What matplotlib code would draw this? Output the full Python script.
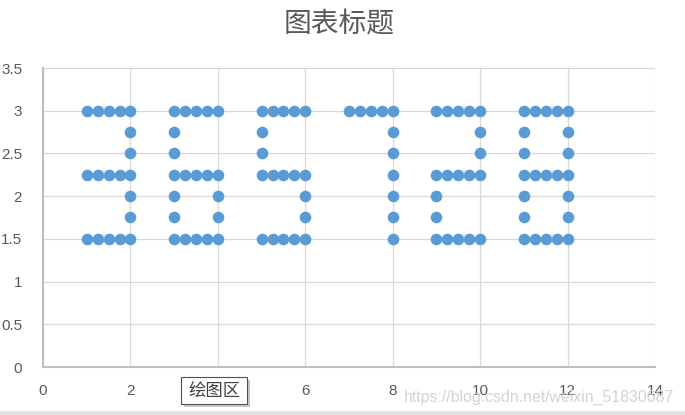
import matplotlib
matplotlib.use("Agg")
import matplotlib.pyplot as plt
from matplotlib.patches import Rectangle

plt.rcParams['font.family'] = ['Noto Sans CJK SC', 'DejaVu Sans']

title = "图表标题"
tooltip = "绘图区"
watermark = "https://blog.csdn.net/weixin_51830687"

# digit "3"
x3 = [1, 1.25, 1.5, 1.75, 2, 2, 2, 1, 1.25, 1.5, 1.75, 2, 2, 2, 1, 1.25, 1.5, 1.75, 2]
y3 = [3, 3, 3, 3, 3, 2.75, 2.5, 2.25, 2.25, 2.25, 2.25, 2.25, 2, 1.75, 1.5, 1.5, 1.5, 1.5, 1.5]
# digit "6"
x6 = [3, 3.25, 3.5, 3.75, 4, 3, 3, 3, 3.25, 3.5, 3.75, 4, 3, 4, 3, 4, 3, 3.25, 3.5, 3.75, 4]
y6 = [3, 3, 3, 3, 3, 2.75, 2.5, 2.25, 2.25, 2.25, 2.25, 2.25, 2, 2, 1.75, 1.75, 1.5, 1.5, 1.5, 1.5, 1.5]
# digit "5"
x5 = [5, 5.25, 5.5, 5.75, 6, 5, 5, 5, 5.25, 5.5, 5.75, 6, 6, 6, 5, 5.25, 5.5, 5.75, 6]
y5 = [3, 3, 3, 3, 3, 2.75, 2.5, 2.25, 2.25, 2.25, 2.25, 2.25, 2, 1.75, 1.5, 1.5, 1.5, 1.5, 1.5]
# digit "7"
x7 = [7, 7.25, 7.5, 7.75, 8, 8, 8, 8, 8, 8, 8]
y7 = [3, 3, 3, 3, 3, 2.75, 2.5, 2.25, 2, 1.75, 1.5]
# digit "2"
x2 = [9, 9.25, 9.5, 9.75, 10, 10, 10, 9, 9.25, 9.5, 9.75, 10, 9, 9, 9, 9.25, 9.5, 9.75, 10]
y2 = [3, 3, 3, 3, 3, 2.75, 2.5, 2.25, 2.25, 2.25, 2.25, 2.25, 2, 1.75, 1.5, 1.5, 1.5, 1.5, 1.5]
# digit "8"
x8 = [11, 11.25, 11.5, 11.75, 12, 11, 12, 11, 12, 11, 11.25, 11.5, 11.75, 12, 11, 12, 11, 12,
      11, 11.25, 11.5, 11.75, 12]
y8 = [3, 3, 3, 3, 3, 2.75, 2.75, 2.5, 2.5, 2.25, 2.25, 2.25, 2.25, 2.25, 2, 2, 1.75, 1.75,
      1.5, 1.5, 1.5, 1.5, 1.5]

xs = x3 + x6 + x5 + x7 + x2 + x8
ys = y3 + y6 + y5 + y7 + y2 + y8

xticks = [0, 2, 4, 6, 8, 10, 12, 14]
yticks = [0, 0.5, 1, 1.5, 2, 2.5, 3, 3.5]
ytick_labels = ["0", "0.5", "1", "1.5", "2", "2.5", "3", "3.5"]

W, H = 685, 415
fig = plt.figure(figsize=(W / 100, H / 100), dpi=100)
ax = fig.add_axes([43 / W, (H - 367) / H, (655 - 43) / W, (367 - 68) / H])

ax.scatter(xs, ys, s=70, color='#5B9BD5', zorder=3, linewidths=0)

ax.set_xlim(0, 14)
ax.set_ylim(0, 3.5)
ax.set_xticks(xticks)
ax.set_yticks(yticks)
ax.set_xticklabels([str(v) for v in xticks])
ax.set_yticklabels(ytick_labels)
ax.grid(True, color='#D9D9D9', linewidth=0.9, zorder=0)
ax.set_axisbelow(True)
for s in ['top', 'right']:
    ax.spines[s].set_visible(False)
for s in ['left', 'bottom']:
    ax.spines[s].set_color('#BFBFBF')
    ax.spines[s].set_linewidth(1.5)
ax.tick_params(length=0, labelsize=11, labelcolor='#595959', pad=12)
ax.tick_params(axis='y', pad=15)
for lab in ax.get_xticklabels() + ax.get_yticklabels():
    lab.set_family(['Liberation Sans', 'DejaVu Sans'])

fig.text(339 / W, 1 - 24 / H, title, ha='center', va='center', fontsize=20, color='#595959')

# tooltip box with shadow
fig.patches.append(Rectangle((184 / W, 1 - 407 / H), 66 / W, 27 / H, transform=fig.transFigure,
                             facecolor='#C8C8C8', edgecolor='none', zorder=5))
fig.patches.append(Rectangle((181 / W, 1 - 404 / H), 66 / W, 27 / H, transform=fig.transFigure,
                             facecolor='white', edgecolor='#505050', linewidth=0.8, zorder=6))
fig.text(214 / W, 1 - 391 / H, tooltip, ha='center', va='center', fontsize=12.5, color='#404040', zorder=7)

fig.text(674 / W, 1 - 397 / H, watermark, ha='right', va='center', fontsize=11.4, color='#D3D3D3',
         family=['Liberation Sans', 'DejaVu Sans'], zorder=1)

fig.patches.append(Rectangle((0, 0), 1, 4 / H, transform=fig.transFigure,
                             facecolor='#E3E3E3', edgecolor='none'))

fig.savefig('out.png', dpi=100)
